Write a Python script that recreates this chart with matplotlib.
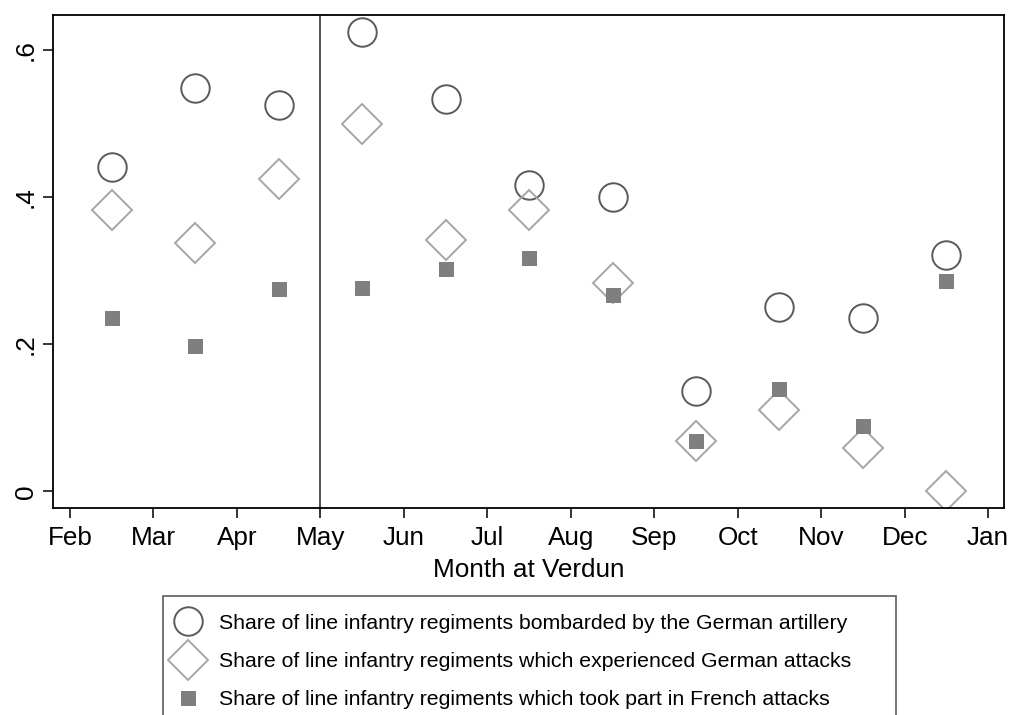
import matplotlib
matplotlib.use("Agg")
import matplotlib.pyplot as plt
import numpy as np

plt.rcParams['font.family'] = ['Liberation Sans', 'DejaVu Sans']

# monthly shares at Verdun, Feb-Dec 1916 (plotted mid-month)
months = ['Feb', 'Mar', 'Apr', 'May', 'Jun', 'Jul', 'Aug', 'Sep', 'Oct', 'Nov', 'Dec']
tick_labels = months + ['Jan']
bombarded = [0.441, 0.549, 0.525, 0.624, 0.534, 0.417, 0.400, 0.137, 0.250, 0.235, 0.321]
german_attacks = [0.382, 0.338, 0.425, 0.500, 0.342, 0.383, 0.283, 0.068, 0.111, 0.059, 0.0]
french_attacks = [0.235, 0.198, 0.275, 0.277, 0.302, 0.317, 0.267, 0.068, 0.139, 0.089, 0.286]
yticks = [0, 0.2, 0.4, 0.6]
ytick_labels = ['0', '.2', '.4', '.6']
cutoff_month = 'May'

labels = [
    'Share of line infantry regiments bombarded by the German artillery',
    'Share of line infantry regiments which experienced German attacks',
    'Share of line infantry regiments which took part in French attacks',
]

x = np.arange(len(months)) + 0.5

fig = plt.figure(figsize=(10.13, 7.15), dpi=100)
ax = fig.add_axes([0.0526, 0.2891, 0.9385, 0.6899])

h1, = ax.plot(x, bombarded, linestyle='none', marker='o', markersize=20.5,
              markerfacecolor='none', markeredgecolor='#5a5a5a', markeredgewidth=1.4)
h2, = ax.plot(x, german_attacks, linestyle='none', marker='D', markersize=20.4,
              markerfacecolor='none', markeredgecolor='#a6a6a6', markeredgewidth=1.4)
h3, = ax.plot(x, french_attacks, linestyle='none', marker='s', markersize=10.8,
              markerfacecolor='#7f7f7f', markeredgewidth=0)

ax.axvline(tick_labels.index(cutoff_month), color='#333333', linewidth=1.2)

ax.set_xlim(-0.2, 11.19)
ax.set_ylim(-0.0231, 0.6476)
ax.set_xticks(np.arange(len(tick_labels)))
ax.set_xticklabels(tick_labels)
ax.set_yticks(yticks)
ax.set_yticklabels(ytick_labels, rotation=90, va='center')
ax.tick_params(axis='both', length=7.2, width=1.1, labelsize=18.8, color='black')
ax.tick_params(axis='x', pad=5.5)
ax.tick_params(axis='y', pad=4)
ax.set_xlabel('Month at Verdun', fontsize=18.8, labelpad=5.5)
for sp in ax.spines.values():
    sp.set_linewidth(1.3)

# legend box is wider than its text and runs off the bottom edge
leg_left, leg_right, leg_top = 162.7 / 1013, 895.7 / 1013, 1 - 595.7 / 715
leg = fig.legend([h1, h2, h3], labels, loc='upper left', mode='expand',
                 bbox_to_anchor=(leg_left, 0, leg_right - leg_left, leg_top),
                 borderaxespad=0, fontsize=15.3, frameon=True, fancybox=False,
                 numpoints=1, borderpad=0.85, labelspacing=0.91,
                 handlelength=0.7, handletextpad=1.12)
leg.get_frame().set_edgecolor('#333333')
leg.get_frame().set_linewidth(1.2)

fig.savefig('out.png', dpi=100)
